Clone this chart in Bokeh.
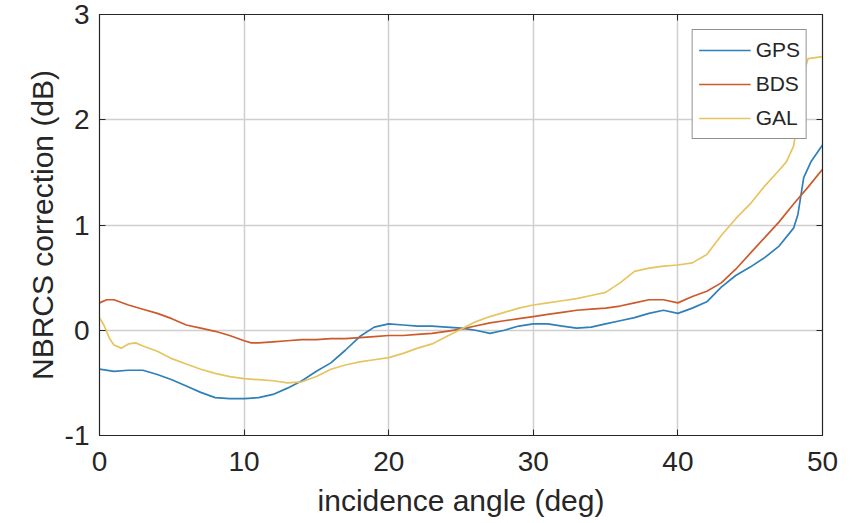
from bokeh.plotting import figure
from bokeh.models import LinearAxis, FixedTicker, Range1d, Legend, LegendItem
from bokeh.embed import file_html
from bokeh.resources import INLINE

# incidence angle (deg) and NBRCS correction (dB) per constellation
gps_angle = [0, 1, 2, 3, 4, 5, 6, 7, 8, 9, 10, 11, 12, 13, 14, 15, 16, 17, 18, 19,
             20, 21, 22, 23, 24, 25, 26, 27, 28, 29, 30, 31, 32, 33, 34, 35, 36, 37,
             38, 39, 40, 41, 42, 43, 44, 45, 46, 47, 48, 48.3, 48.7, 49.2, 50]
gps_corr = [-0.37, -0.39, -0.38, -0.38, -0.42, -0.47, -0.53, -0.59, -0.64, -0.65,
            -0.65, -0.64, -0.61, -0.55, -0.48, -0.39, -0.31, -0.19, -0.06, 0.03,
            0.06, 0.05, 0.04, 0.04, 0.03, 0.02, 0.0, -0.03, 0.0, 0.04, 0.06, 0.06,
            0.04, 0.02, 0.03, 0.06, 0.09, 0.12, 0.16, 0.19, 0.16, 0.21, 0.27, 0.41,
            0.52, 0.60, 0.69, 0.80, 0.97, 1.10, 1.45, 1.60, 1.76]

bds_angle = [0, 0.5, 1, 2, 3, 4, 5, 6, 7, 8, 9, 10, 10.5, 11, 12, 13, 14, 15, 16, 17,
             18, 19, 20, 21, 22, 23, 24, 25, 26, 27, 28, 29, 30, 31, 32, 33, 34, 35,
             36, 37, 38, 39, 40, 41, 42, 43, 44, 45, 46, 47, 48, 49, 50]
bds_corr = [0.26, 0.29, 0.29, 0.24, 0.20, 0.16, 0.11, 0.05, 0.02, -0.01, -0.05, -0.10,
            -0.12, -0.12, -0.11, -0.10, -0.09, -0.09, -0.08, -0.08, -0.07, -0.06,
            -0.05, -0.05, -0.04, -0.03, -0.01, 0.01, 0.04, 0.07, 0.09, 0.11, 0.13,
            0.15, 0.17, 0.19, 0.20, 0.21, 0.23, 0.26, 0.29, 0.29, 0.26, 0.32, 0.37,
            0.45, 0.58, 0.73, 0.88, 1.03, 1.20, 1.36, 1.53]

gal_angle = [0, 0.3, 0.7, 1, 1.5, 2, 2.5, 3, 4, 5, 6, 7, 8, 9, 10, 11, 12, 13, 14, 15,
             16, 17, 18, 19, 20, 21, 22, 23, 24, 25, 26, 27, 28, 29, 30, 31, 32, 33,
             34, 35, 36, 37, 38, 39, 40, 41, 42, 43, 44, 45, 46, 47, 47.5, 48, 48.3,
             48.7, 49, 50]
gal_corr = [0.12, 0.05, -0.08, -0.14, -0.17, -0.13, -0.12, -0.15, -0.20, -0.27, -0.32,
            -0.37, -0.41, -0.44, -0.46, -0.47, -0.48, -0.50, -0.49, -0.44, -0.37,
            -0.33, -0.30, -0.28, -0.26, -0.22, -0.17, -0.13, -0.06, 0.01, 0.08, 0.13,
            0.17, 0.21, 0.24, 0.26, 0.28, 0.30, 0.33, 0.36, 0.45, 0.56, 0.59, 0.61,
            0.62, 0.64, 0.72, 0.90, 1.06, 1.20, 1.37, 1.52, 1.60, 1.75, 2.00, 2.45,
            2.58, 2.60]

x_ticks = [0, 10, 20, 30, 40, 50]
y_ticks = [-1, 0, 1, 2, 3]
y_tick_labels = {-1: "-1", 0: "0", 1: "1", 2: "2", 3: "3"}

FONT = "Liberation Sans"
INK = "#262626"

p = figure(width=856, height=523, output_backend="svg", toolbar_location=None,
           x_range=Range1d(0, 50), y_range=Range1d(-1, 3),
           min_border_left=99, min_border_right=34, min_border_top=14,
           min_border_bottom=88)

p.outline_line_color = INK
p.outline_line_width = 1.2

for ax in (p.xaxis[0], p.yaxis[0]):
    ax.axis_line_color = INK
    ax.major_tick_line_color = INK
    ax.major_tick_in = 6
    ax.major_tick_out = 0
    ax.minor_tick_line_color = None
    ax.major_label_text_font = FONT
    ax.major_label_text_font_size = "28px"
    ax.major_label_text_color = INK
    ax.axis_label_text_font = FONT
    ax.axis_label_text_font_size = "30px"
    ax.axis_label_text_font_style = "normal"
    ax.axis_label_text_color = INK

p.xaxis.ticker = FixedTicker(ticks=x_ticks)
p.yaxis.ticker = FixedTicker(ticks=y_ticks)
p.yaxis.major_label_overrides = y_tick_labels
p.xaxis.axis_label = "incidence angle (deg)"
p.yaxis.axis_label = "NBRCS correction (dB)"
p.xaxis.major_label_standoff = 16
p.yaxis.major_label_standoff = 10
p.xaxis.axis_label_standoff = 10
p.yaxis.axis_label_standoff = 3

# mirrored ticks on the top and right edges of the box (no labels)
top = LinearAxis(ticker=FixedTicker(ticks=x_ticks), major_label_text_color=None,
                 major_tick_in=6, major_tick_out=0, minor_tick_line_color=None,
                 axis_line_color=INK, major_tick_line_color=INK)
right = LinearAxis(ticker=FixedTicker(ticks=y_ticks), major_label_text_color=None,
                   major_tick_in=6, major_tick_out=0, minor_tick_line_color=None,
                   axis_line_color=INK, major_tick_line_color=INK)
p.add_layout(top, "above")
p.add_layout(right, "right")

p.grid.grid_line_color = "#cfcfcf"
p.grid.grid_line_width = 1.5
p.xgrid.ticker = FixedTicker(ticks=x_ticks)
p.ygrid.ticker = FixedTicker(ticks=y_ticks)

r_gps = p.line(gps_angle, gps_corr, line_color="#2f7fb8", line_width=1.7)
r_bds = p.line(bds_angle, bds_corr, line_color="#cc5a2a", line_width=1.7)
r_gal = p.line(gal_angle, gal_corr, line_color="#e6c460", line_width=1.7)

legend = Legend(items=[LegendItem(label="GPS", renderers=[r_gps]),
                       LegendItem(label="BDS", renderers=[r_bds]),
                       LegendItem(label="GAL", renderers=[r_gal])],
                location="top_right", margin=15, padding=6, spacing=6,
                glyph_width=52, glyph_height=28, label_height=28,
                label_standoff=5, label_text_font=FONT,
                label_text_font_size="21px", label_text_color=INK,
                border_line_color=INK, border_line_width=1.2,
                background_fill_color="white", background_fill_alpha=1.0)
p.add_layout(legend, "center")

open("out.html", "w").write(file_html(p, INLINE))
